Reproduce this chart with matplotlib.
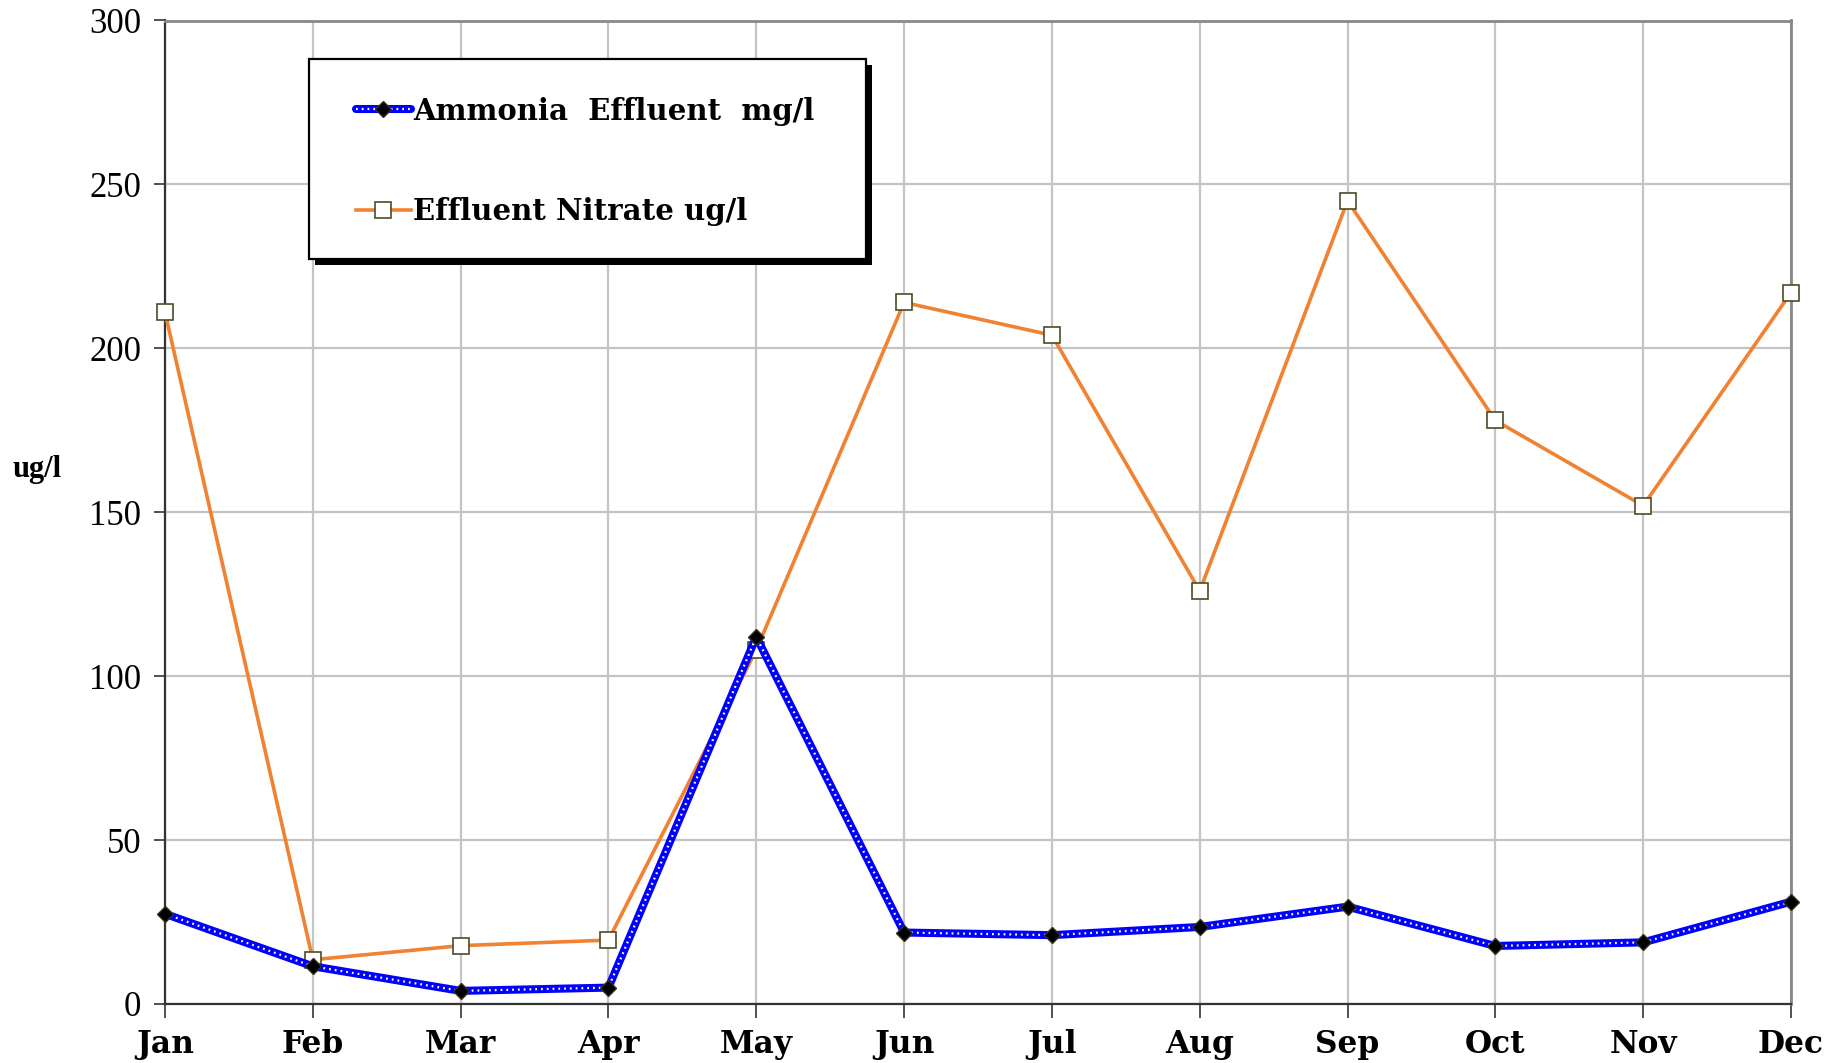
import matplotlib
matplotlib.use("Agg")
import matplotlib.pyplot as plt
from matplotlib.lines import Line2D
from matplotlib.patches import Rectangle
from matplotlib.legend_handler import HandlerTuple

months = ["Jan", "Feb", "Mar", "Apr", "May", "Jun", "Jul", "Aug", "Sep", "Oct", "Nov", "Dec"]
ammonia = [27.5, 11.5, 4.0, 5.0, 112, 21.8, 21.0, 23.5, 29.7, 17.7, 18.8, 31.2]
nitrate = [211, 13.5, 17.8, 19.5, 108, 214, 204, 126, 245, 178, 152, 217]
y_ticks = [0, 50, 100, 150, 200, 250, 300]

bold_font = "DejaVu Serif"
num_font = "Liberation Serif"
W, H = 1840, 1063

fig = plt.figure(figsize=(W / 100, H / 100), dpi=100)
ax = fig.add_axes([165 / W, 1 - 1004 / H, 1626 / W, 983.5 / H])

x = list(range(len(months)))

# nitrate first so ammonia sits on top
ax.plot(x, nitrate, color="#f08232", lw=2.6, marker="s", markersize=11,
        markerfacecolor="white", markeredgecolor="#4d4d26", markeredgewidth=1.2,
        zorder=3, clip_on=False)

ax.plot(x, ammonia, color="#0000ff", lw=5.8, solid_capstyle="round",
        solid_joinstyle="round", zorder=4, clip_on=False)
ax.plot(x, ammonia, color="white", lw=1.6, linestyle=(0, (0.8, 1.8)),
        zorder=5, clip_on=False)
ax.plot(x, ammonia, linestyle="none", marker="D", markersize=8.5,
        markerfacecolor="black", markeredgecolor="#33331a", zorder=6, clip_on=False)

ax.set_xlim(0, 11)
ax.set_ylim(0, 300)
ax.set_xticks(x)
ax.set_xticklabels(months, fontfamily=bold_font, fontweight="bold", fontsize=22.5)
ax.set_yticks(y_ticks)
ax.set_yticklabels([str(v) for v in y_ticks], fontfamily=num_font, fontsize=25)
ax.tick_params(axis="x", length=10, width=1.2, color="#333333", pad=8)
ax.tick_params(axis="y", length=8, width=1.2, color="#333333", pad=9)

ax.grid(True, color="#c4c4c4", lw=1.6)
ax.set_axisbelow(True)
for side in ["top", "right"]:
    ax.spines[side].set_color("#888888")
    ax.spines[side].set_linewidth(2)
for side in ["left", "bottom"]:
    ax.spines[side].set_color("#333333")
    ax.spines[side].set_linewidth(1.6)

fig.text(13 / W, 1 - 470 / H, "ug/l", fontfamily=num_font, fontweight="bold",
         fontsize=22, ha="left", va="center")

# legend box with hard black shadow
bx0, bx1, by0, by1 = 308.6, 866, 58.7, 259.3
fig.patches.append(Rectangle(((bx0 + 6) / W, 1 - (by1 + 6) / H), (bx1 - bx0) / W,
                             (by1 - by0) / H, transform=fig.transFigure,
                             facecolor="black", edgecolor="none", zorder=8))
fig.patches.append(Rectangle((bx0 / W, 1 - by1 / H), (bx1 - bx0) / W, (by1 - by0) / H,
                             transform=fig.transFigure, facecolor="white",
                             edgecolor="black", lw=1.6, zorder=9))

h_amm = (Line2D([], [], color="#0000ff", lw=5.8, solid_capstyle="round"),
         Line2D([], [], color="white", lw=1.6, linestyle=(0, (0.8, 1.8))),
         Line2D([], [], linestyle="none", marker="D", markersize=8.5,
                markerfacecolor="black", markeredgecolor="#33331a"))
h_nit = Line2D([], [], color="#f08232", lw=2.6, marker="s", markersize=11,
               markerfacecolor="white", markeredgecolor="#4d4d26", markeredgewidth=1.2)

leg = fig.legend([h_amm, h_nit], ["Ammonia  Effluent  mg/l", "Effluent Nitrate ug/l"],
                 handler_map={tuple: HandlerTuple(ndivide=1)},
                 loc="upper left", bbox_to_anchor=(355.6 / W, 1 - 96.5 / H),
                 borderaxespad=0, borderpad=0, frameon=False,
                 prop={"family": bold_font, "weight": "bold", "size": 21},
                 handlelength=1.9, handletextpad=0.08, labelspacing=2.46)
leg.set_zorder(10)

fig.savefig("out.png", dpi=100)
